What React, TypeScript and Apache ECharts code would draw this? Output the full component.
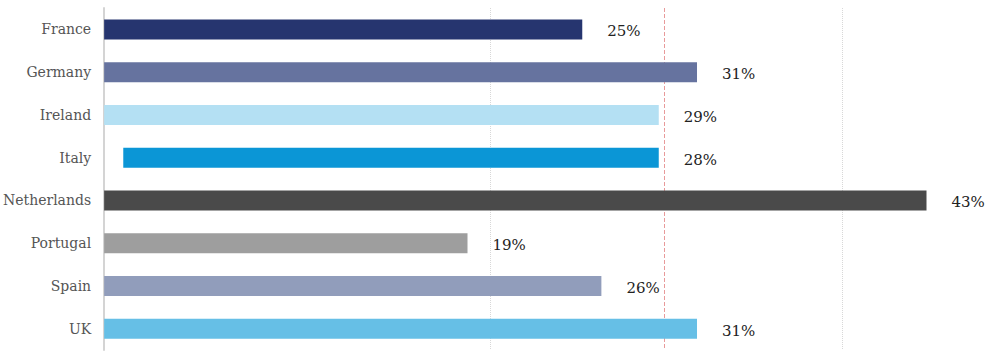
import React, { useEffect, useRef } from "react";
import * as echarts from "echarts";

const categories = ["France", "Germany", "Ireland", "Italy", "Netherlands", "Portugal", "Spain", "UK"];
const values = [25, 31, 29, 28, 43, 19, 26, 31];
const startOffsets = [0, 0, 0, 1, 0, 0, 0, 0];
const barColors = ["#26356f", "#66739f", "#b4e0f3", "#0b96d6", "#4a4a4a", "#9e9e9e", "#919dbb", "#66bfe6"];
const gridValues = [20.2, 38.6];
const referenceValue = 29.3;

const FONT = "'DejaVu Serif', 'Liberation Serif', serif";

export default function App() {
  const ref = useRef<HTMLDivElement>(null);
  useEffect(() => {
    document.body.style.margin = "0";
    const chart = echarts.init(ref.current!, null, { renderer: "svg" });
    chart.setOption({
      animation: false,
      backgroundColor: "#ffffff",
      grid: { left: 103, right: 2, top: 8, bottom: 12 },
      xAxis: {
        type: "value",
        min: 0,
        max: 47,
        axisLine: { show: false },
        axisTick: { show: false },
        axisLabel: { show: false },
        splitLine: { show: false },
      },
      yAxis: {
        type: "category",
        inverse: true,
        data: categories,
        axisLine: { show: true, lineStyle: { color: "#d4d4d4", width: 2 } },
        axisTick: { show: false },
        axisLabel: { margin: 13, fontFamily: FONT, fontSize: 14, color: "#555555" },
      },
      series: [
        {
          type: "line",
          data: [],
          z: 0,
          silent: true,
          markLine: {
            z: 0,
            symbol: "none",
            silent: true,
            label: { show: false },
            data: [
              ...gridValues.map((v) => ({ xAxis: v, lineStyle: { color: "#d8d8d8", type: "dotted", width: 1 } })),
              { xAxis: referenceValue, lineStyle: { color: "#e89a9a", type: "dashed", width: 1 } },
            ],
          },
        },
        {
          type: "bar",
          stack: "total",
          barWidth: 20,
          z: 2,
          silent: true,
          itemStyle: { color: "transparent" },
          data: startOffsets,
        },
        {
          type: "bar",
          stack: "total",
          barWidth: 20,
          z: 3,
          data: values.map((v, i) => ({ value: v, itemStyle: { color: barColors[i] } })),
          label: {
            show: true,
            position: "right",
            distance: 25,
            offset: [0, 2],
            formatter: "{c}%",
            fontFamily: FONT,
            fontSize: 15,
            color: "#222222",
          },
        },
      ],
    });
    return () => chart.dispose();
  }, []);
  return <div ref={ref} style={{ position: "fixed", left: 0, top: 0, width: 1005, height: 362 }} />;
}
